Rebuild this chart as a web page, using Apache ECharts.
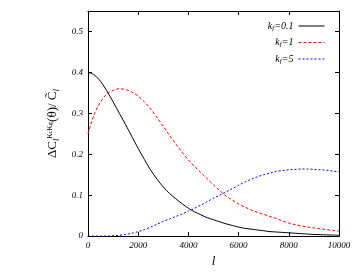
<!DOCTYPE html>
<html>
<head>
<meta charset="utf-8">
<script src="https://cdn.jsdelivr.net/npm/echarts@6/dist/echarts.min.js"></script>
<style>html,body{margin:0;padding:0;background:#fff}#c{width:354px;height:273px}</style>
</head>
<body>
<div id="c"></div>
<script>
const ells = [0,250,500,750,1000,1250,1500,1750,2000,2250,2500,2750,3000,3250,3500,3750,4000,4250,4500,4750,5000,5250,5500,5750,6000,6250,6500,6750,7000,7250,7500,7750,8000,8250,8500,8750,9000,9250,9500,9750,10000];
const kf01 = [0.400,0.394,0.378,0.355,0.328,0.300,0.272,0.243,0.214,0.187,0.161,0.139,0.120,0.104,0.091,0.079,0.068,0.059,0.052,0.045,0.040,0.035,0.030,0.026,0.022,0.019,0.017,0.015,0.013,0.011,0.010,0.009,0.008,0.007,0.006,0.005,0.004,0.0035,0.003,0.0025,0.002];
const kf1 = [0.250,0.298,0.328,0.347,0.356,0.360,0.358,0.352,0.342,0.328,0.310,0.290,0.268,0.246,0.225,0.205,0.186,0.170,0.155,0.140,0.125,0.111,0.098,0.088,0.079,0.071,0.064,0.058,0.053,0.048,0.043,0.037,0.032,0.028,0.025,0.022,0.020,0.018,0.016,0.014,0.012];
const kf5 = [0,0,0,0,0.001,0.002,0.004,0.007,0.011,0.016,0.022,0.029,0.036,0.042,0.048,0.054,0.061,0.068,0.076,0.084,0.093,0.100,0.108,0.116,0.124,0.132,0.139,0.145,0.150,0.154,0.158,0.160,0.162,0.163,0.164,0.164,0.163,0.162,0.161,0.159,0.157];
const seriesNames = ['kf=0.1','kf=1','kf=5'];
const xTicks = [0,2000,4000,6000,8000,10000];
const yTicks = [0,0.1,0.2,0.3,0.4,0.5];

const colors = ['#000000', '#ff0000', '#0000ff'];
const dashes = ['solid', [3,2], [2,2]];
const pairs = (ys) => ells.map((l, i) => [l, ys[i]]);
const fontSerif = '"Liberation Serif", "DejaVu Serif", serif';
const tickLabelStyle = {fontFamily: fontSerif, fontStyle: 'italic', fontSize: 9, color: '#000'};
const frameAxis = {
  axisLine: {show: true, onZero: false, lineStyle: {color: '#000', width: 1}},
  axisTick: {show: true, inside: true, length: 4, lineStyle: {color: '#000'}},
  splitLine: {show: false}
};

const chart = echarts.init(document.getElementById('c'), null, {renderer: 'canvas'});
chart.setOption({
  animation: false,
  backgroundColor: '#fff',
  grid: {left: 88, right: 15, top: 11, bottom: 29},
  legend: {
    orient: 'vertical', right: 24, top: 16, itemGap: 6, align: 'right',
    itemWidth: 26, itemHeight: 12,
    data: seriesNames.map((n, i) => ({
      name: n,
      itemStyle: {opacity: 0},
      lineStyle: {color: colors[i], width: 1, type: dashes[i], opacity: 1}
    })),
    formatter: (n) => '{i|k}{s|f}{i|' + n.slice(2) + '}',
    textStyle: {
      fontFamily: fontSerif, fontStyle: 'italic', fontSize: 10, color: '#000',
      rich: {
        i: {fontFamily: fontSerif, fontStyle: 'italic', fontSize: 10, color: '#000'},
        s: {fontFamily: fontSerif, fontStyle: 'italic', fontSize: 7, color: '#000', verticalAlign: 'bottom', padding: [4,0,0,0]}
      }
    }
  },
  xAxis: [Object.assign({
    type: 'value', min: 0, max: 10000, interval: 2000,
    name: 'l', nameLocation: 'middle', nameGap: 18,
    nameTextStyle: {fontFamily: fontSerif, fontStyle: 'italic', fontSize: 13, color: '#000'},
    axisLabel: Object.assign({margin: 5, formatter: (v) => xTicks.includes(v) ? String(v) : ''}, tickLabelStyle)
  }, frameAxis), Object.assign({
    type: 'value', min: 0, max: 10000, interval: 2000, position: 'top',
    axisLabel: {show: false}
  }, frameAxis)],
  yAxis: [Object.assign({
    type: 'value', min: 0, max: 0.55, interval: 0.1,
    name: '{m|ΔC}{sb|l}{sp|κ}{sp2|c}{sp|κ}{sp2|g}{m|(θ)/ C\u0303}{sb|l}',
    nameLocation: 'middle', nameRotate: 90, nameGap: 18,
    nameTextStyle: {
      fontFamily: fontSerif, fontSize: 13, color: '#000',
      rich: {
        m: {fontFamily: fontSerif, fontSize: 13, color: '#000'},
        sb: {fontFamily: fontSerif, fontStyle: 'italic', fontSize: 9, color: '#000', verticalAlign: 'bottom', padding: [6,0,0,0]},
        sp: {fontFamily: fontSerif, fontSize: 10, color: '#000', verticalAlign: 'top', padding: [0,0,6,0]},
        sp2: {fontFamily: fontSerif, fontSize: 7, color: '#000', verticalAlign: 'top', padding: [2,0,4,0]}
      }
    },
    axisLabel: Object.assign({margin: 5, showMaxLabel: false, formatter: (v) => {
      const t = yTicks.find(y => Math.abs(y - v) < 1e-9);
      return t === undefined ? '' : String(t);
    }}, tickLabelStyle)
  }, frameAxis), Object.assign({
    type: 'value', min: 0, max: 0.55, interval: 0.1, position: 'right',
    axisLabel: {show: false}
  }, frameAxis)],
  series: [
    {name: seriesNames[0], type: 'line', data: pairs(kf01), symbol: 'none', smooth: 0.3,
     lineStyle: {color: colors[0], width: 1, type: dashes[0]}, itemStyle: {color: colors[0]}},
    {name: seriesNames[1], type: 'line', data: pairs(kf1), symbol: 'none', smooth: 0.3,
     lineStyle: {color: colors[1], width: 1, type: dashes[1]}, itemStyle: {color: colors[1]}},
    {name: seriesNames[2], type: 'line', data: pairs(kf5), symbol: 'none', smooth: 0.3,
     lineStyle: {color: colors[2], width: 1, type: dashes[2]}, itemStyle: {color: colors[2]}},
    {name: 'frame', type: 'line', xAxisIndex: 1, yAxisIndex: 1, data: [], symbol: 'none', silent: true}
  ]
});
</script>
</body>
</html>
